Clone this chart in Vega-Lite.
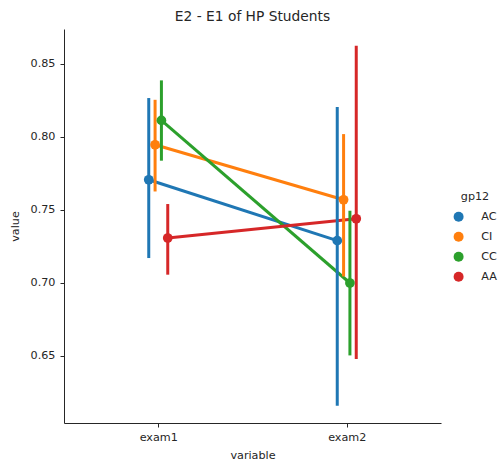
{
  "$schema": "https://vega.github.io/schema/vega-lite/v6.json",
  "autosize": {"type": "none"},
  "padding": {"left": 64, "top": 29, "right": 59, "bottom": 39},
  "width": 377,
  "height": 394,
  "background": "white",
  "title": {"text": "E2 - E1 of HP Students", "font": "DejaVu Sans", "fontSize": 13.8, "fontWeight": "normal", "color": "#262626", "anchor": "middle", "offset": 5},
  "config": {
    "view": {"stroke": null},
    "font": "DejaVu Sans",
    "axis": {"grid": false, "domainColor": "#262626", "tickColor": "#262626", "labelColor": "#262626", "titleColor": "#262626", "labelFont": "DejaVu Sans", "titleFont": "DejaVu Sans", "labelFontSize": 11.2, "titleFontSize": 11.2, "titleFontWeight": "normal", "tickSize": 4, "domainWidth": 1, "tickWidth": 1}
  },
  "data": {"values": [
    {"variable": "exam1", "gp12": "AC", "value": 0.7705, "lo": 0.7169, "hi": 0.8265},
    {"variable": "exam1", "gp12": "CI", "value": 0.7945, "lo": 0.7625, "hi": 0.8253},
    {"variable": "exam1", "gp12": "CC", "value": 0.8112, "lo": 0.7836, "hi": 0.8386},
    {"variable": "exam1", "gp12": "AA", "value": 0.7306, "lo": 0.7055, "hi": 0.7539},
    {"variable": "exam2", "gp12": "AC", "value": 0.7288, "lo": 0.6158, "hi": 0.8203},
    {"variable": "exam2", "gp12": "CI", "value": 0.7568, "lo": 0.7043, "hi": 0.8018},
    {"variable": "exam2", "gp12": "CC", "value": 0.6998, "lo": 0.6502, "hi": 0.7493},
    {"variable": "exam2", "gp12": "AA", "value": 0.7438, "lo": 0.6477, "hi": 0.8623}
  ]},
  "encoding": {
    "x": {"field": "variable", "type": "nominal", "scale": {"type": "point", "padding": 0.5}, "axis": {"labelAngle": 0, "title": "variable", "labelPadding": 4, "titlePadding": 7}},
    "xOffset": {"field": "gp12", "type": "nominal", "scale": {"type": "point", "domain": ["AC", "CI", "CC", "AA"], "range": [-9.5, 9.5], "padding": 0}},
    "color": {"field": "gp12", "type": "nominal", "scale": {"domain": ["AC", "CI", "CC", "AA"], "range": ["#1f77b4", "#ff7f0e", "#2ca02c", "#d62728"]},
      "legend": {"title": "gp12", "orient": "none", "legendX": 389, "legendY": 162, "symbolType": "circle", "symbolSize": 100, "symbolStrokeWidth": 0, "symbolOpacity": 1, "labelFontSize": 11.2, "titleFontSize": 11.2, "titleFontWeight": "normal", "labelColor": "#262626", "titleColor": "#262626", "labelOffset": 17, "rowPadding": 8, "titleAnchor": "middle", "titlePadding": 9, "labelFont": "DejaVu Sans", "titleFont": "DejaVu Sans"}}
  },
  "layer": [
    {"mark": {"type": "line", "strokeWidth": 3},
     "encoding": {"y": {"field": "value", "type": "quantitative", "scale": {"domain": [0.6039, 0.8738], "nice": false, "zero": false}, "axis": {"values": [0.65, 0.7, 0.75, 0.8, 0.85], "format": ".2f", "title": "value", "labelPadding": 5, "titlePadding": 10}}, "detail": {"field": "gp12"}}},
    {"mark": {"type": "rule", "strokeWidth": 3},
     "encoding": {"y": {"field": "lo", "type": "quantitative"}, "y2": {"field": "hi"}}},
    {"mark": {"type": "point", "filled": true, "size": 95, "opacity": 1, "shape": "circle"},
     "encoding": {"y": {"field": "value", "type": "quantitative"}}}
  ]
}
